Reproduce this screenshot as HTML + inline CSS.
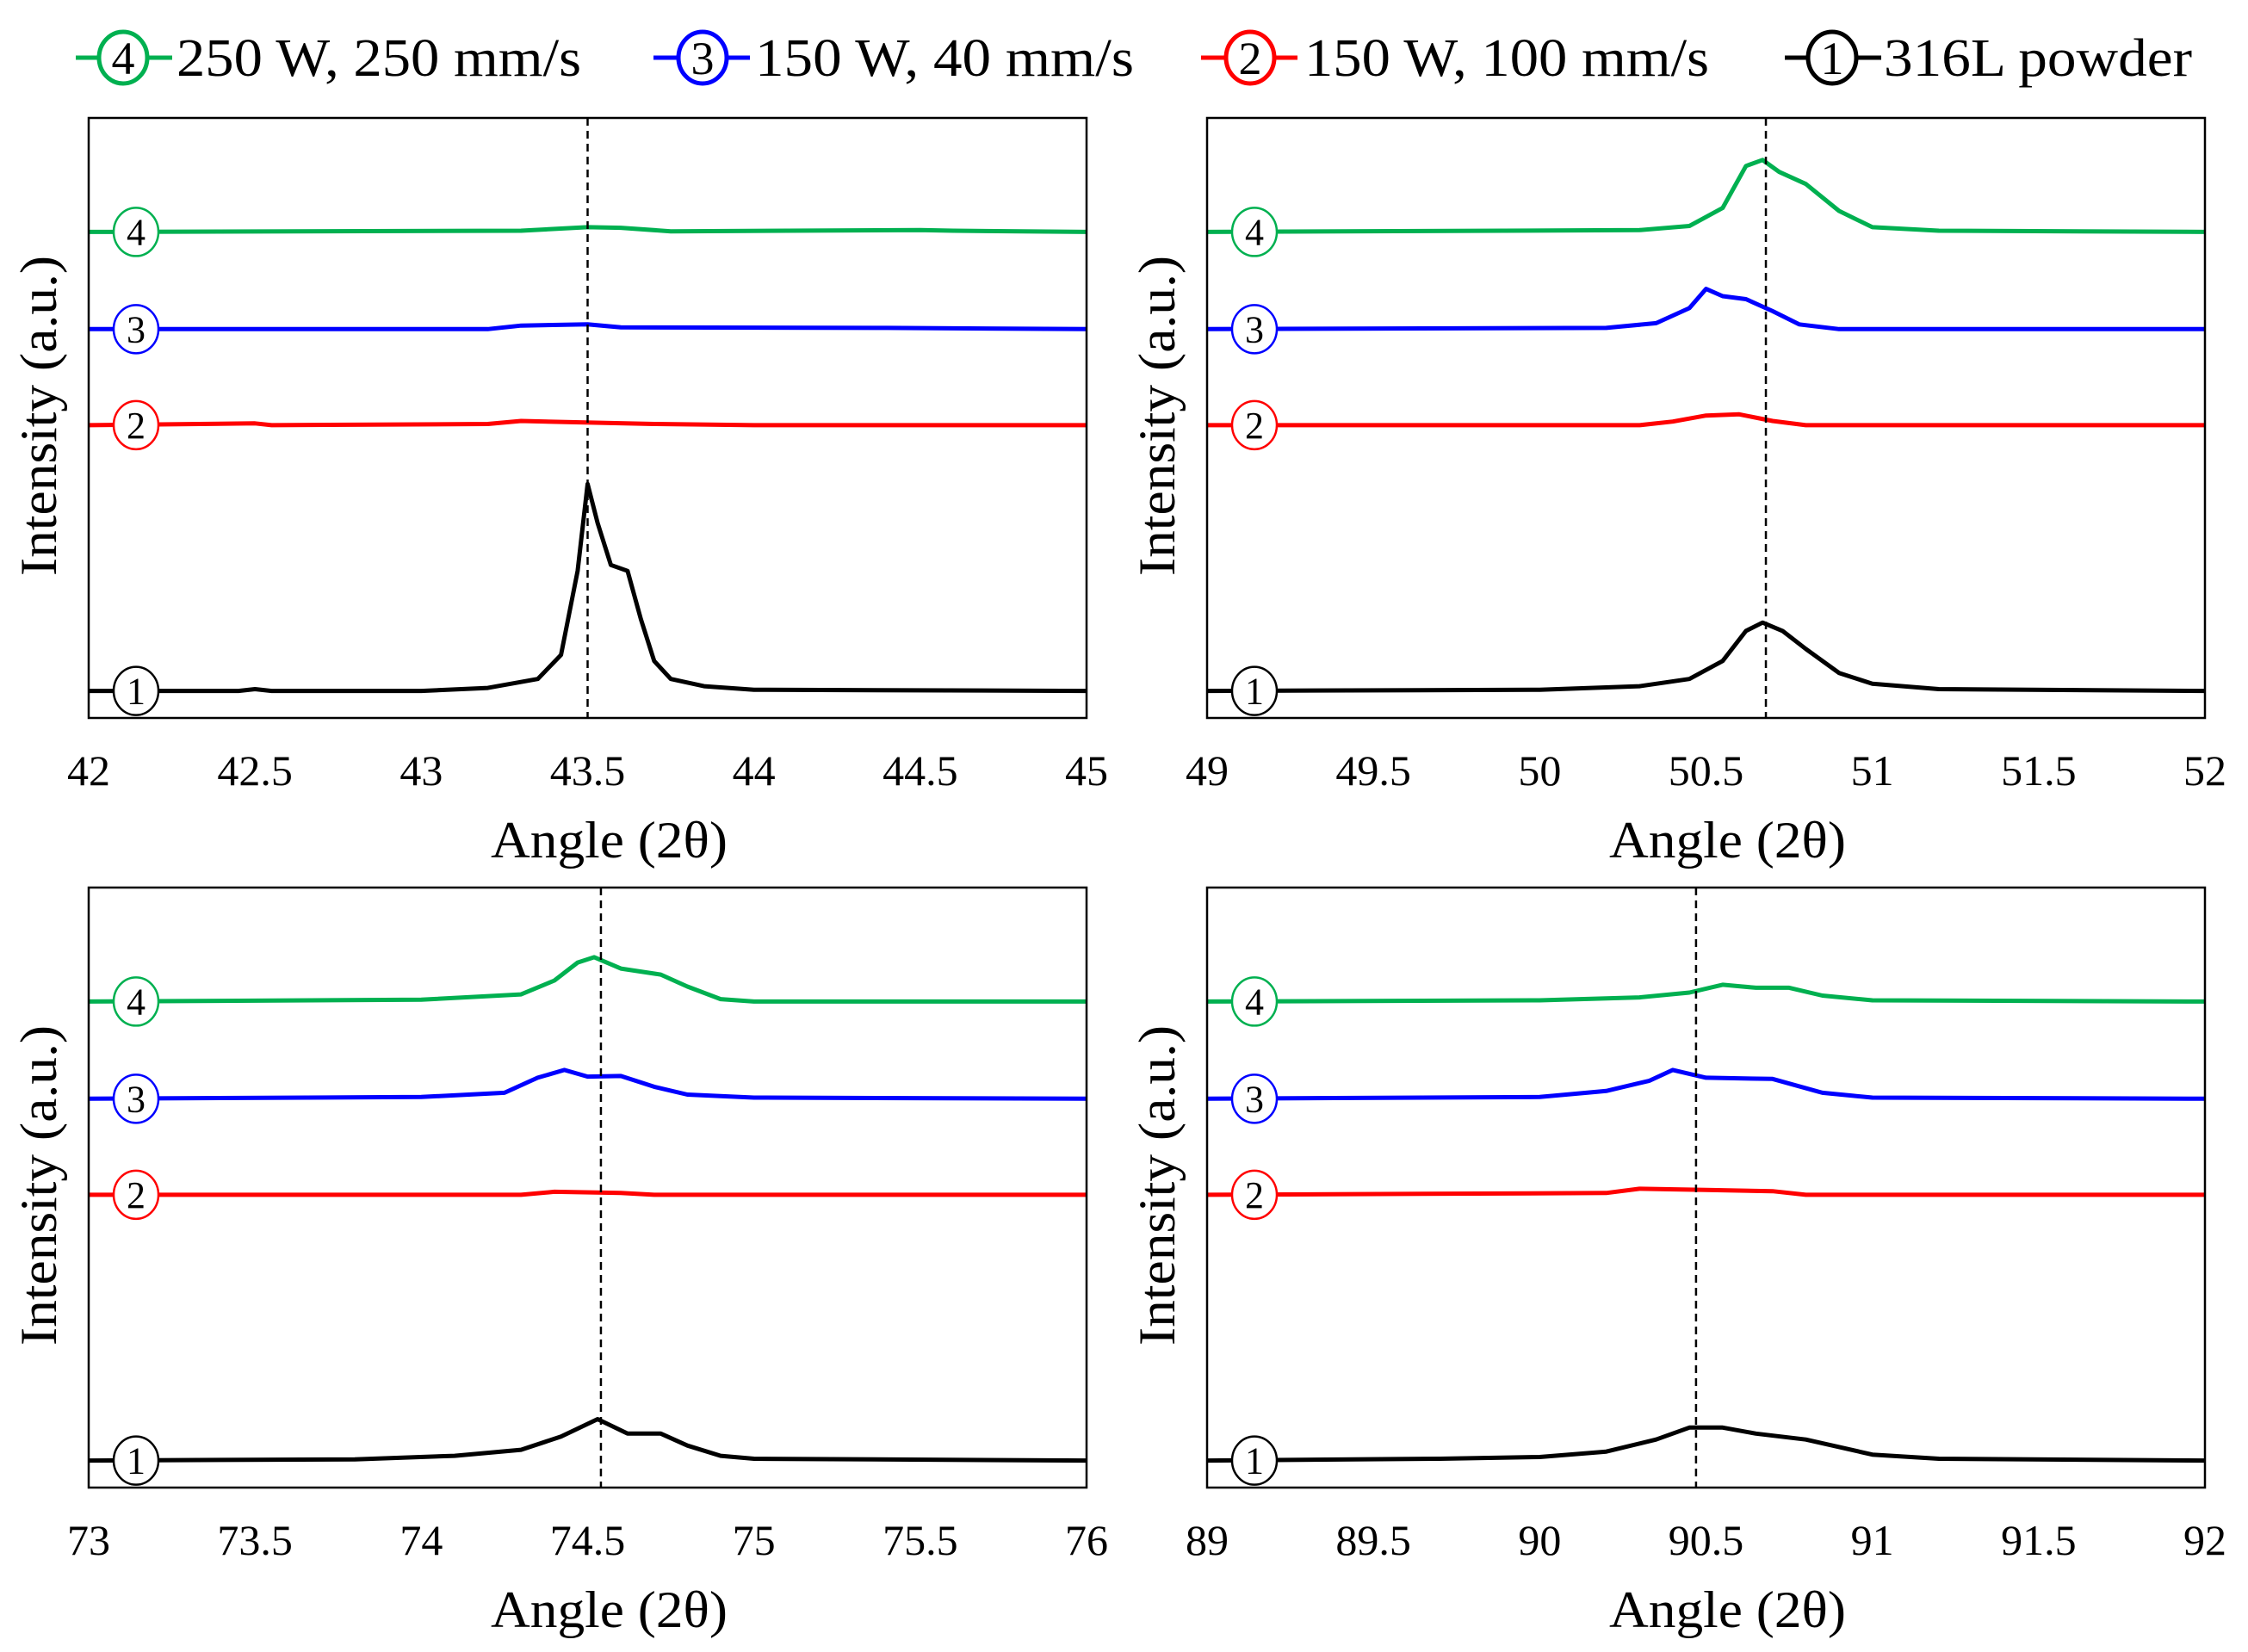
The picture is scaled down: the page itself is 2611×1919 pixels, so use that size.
<!DOCTYPE html>
<html><head><meta charset="utf-8">
<style>body{margin:0;background:#fff}svg{display:block}text{font-family:"Liberation Serif",serif}</style>
</head><body>
<svg id="c" width="2611" height="1919" viewBox="0 0 2611 1919"></svg>
<script>
const seriesNames=["316L powder","150 W, 100 mm/s","150 W, 40 mm/s","250 W, 250 mm/s"];
const seriesColors=["#000000","#ff0000","#0000ff","#00b050"];
const seriesOffsets=[4.5,48.8,64.8,81];
const panelRanges=[[42,45],[49,52],[73,76],[89,92]];
const panelRefLines=[43.5,50.68,74.54,90.47];
const tickLabels1=["42","42.5","43","43.5","44","44.5","45"];
const tickLabels2=["49","49.5","50","50.5","51","51.5","52"];
const tickLabels3=["73","73.5","74","74.5","75","75.5","76"];
const tickLabels4=["89","89.5","90","90.5","91","91.5","92"];
const tickLabels=[tickLabels1,tickLabels2,tickLabels3,tickLabels4];
const p1Black=[[42,0],[42.45,0],[42.5,0.3],[42.55,0],[43,0],[43.2,0.5],[43.35,2],[43.42,6],[43.47,20],[43.5,34.5],[43.53,28],[43.57,21],[43.62,20],[43.66,12],[43.7,5],[43.75,2],[43.85,0.8],[44,0.2],[45,0]];
const p1Red=[[42,0],[42.5,0.3],[42.55,0],[43.2,0.2],[43.3,0.7],[43.45,0.5],[43.7,0.2],[44,0],[45,0]];
const p1Blue=[[42,0],[43.2,0],[43.3,0.6],[43.5,0.8],[43.6,0.3],[44.4,0.2],[45,0]];
const p1Green=[[42,0],[43.3,0.2],[43.5,0.8],[43.6,0.7],[43.75,0.1],[44.5,0.3],[44.6,0.2],[45,0]];
const p2Black=[[49,0],[50,0.2],[50.3,0.8],[50.45,2],[50.55,5],[50.62,10],[50.67,11.4],[50.73,10],[50.8,7],[50.9,3],[51,1.2],[51.2,0.3],[52,0]];
const p2Red=[[49,0],[50.3,0],[50.4,0.6],[50.5,1.6],[50.6,1.8],[50.7,0.7],[50.8,0],[52,0]];
const p2Blue=[[49,0],[50.2,0.2],[50.35,1],[50.45,3.5],[50.5,6.7],[50.55,5.5],[50.62,5],[50.7,3],[50.78,0.8],[50.9,0],[52,0]];
const p2Green=[[49,0],[50.3,0.3],[50.45,1],[50.55,4],[50.62,11],[50.67,12],[50.72,10],[50.8,8],[50.9,3.5],[51,0.8],[51.2,0.2],[52,0]];
const p3Black=[[73,0],[73.8,0.2],[74.1,0.8],[74.3,1.8],[74.42,4],[74.53,6.9],[74.62,4.5],[74.72,4.5],[74.8,2.5],[74.9,0.8],[75,0.3],[76,0]];
const p3Red=[[73,0],[74.3,0],[74.4,0.5],[74.6,0.3],[74.7,0],[76,0]];
const p3Blue=[[73,0],[74,0.3],[74.25,1],[74.35,3.5],[74.43,4.8],[74.5,3.7],[74.6,3.8],[74.7,2],[74.8,0.7],[75,0.2],[76,0]];
const p3Green=[[73,0],[74,0.3],[74.3,1.2],[74.4,3.5],[74.47,6.5],[74.52,7.4],[74.6,5.5],[74.72,4.5],[74.8,2.5],[74.9,0.4],[75,0],[76,0]];
const p4Black=[[89,0],[89.7,0.3],[90,0.6],[90.2,1.5],[90.35,3.5],[90.45,5.5],[90.55,5.5],[90.65,4.5],[90.8,3.5],[91,1],[91.2,0.3],[92,0]];
const p4Red=[[89,0],[90.2,0.3],[90.3,1],[90.5,0.8],[90.7,0.6],[90.8,0],[92,0]];
const p4Blue=[[89,0],[90,0.3],[90.2,1.3],[90.33,3],[90.4,4.8],[90.5,3.5],[90.7,3.3],[90.85,1],[91,0.2],[92,0]];
const p4Green=[[89,0],[90,0.2],[90.3,0.7],[90.45,1.5],[90.55,2.8],[90.65,2.3],[90.75,2.3],[90.85,1],[91,0.2],[92,0]];
const panelData=[[p1Black,p1Red,p1Blue,p1Green],[p2Black,p2Red,p2Blue,p2Green],[p3Black,p3Red,p3Blue,p3Green],[p4Black,p4Red,p4Blue,p4Green]];

const NS="http://www.w3.org/2000/svg";
const svg=document.getElementById('c');
function mk(tag,attrs,parent,txt){const e=document.createElementNS(NS,tag);for(const k in attrs)e.setAttribute(k,attrs[k]);if(txt!==undefined)e.textContent=txt;(parent||svg).appendChild(e);return e;}
const boxes=[[103,137],[1402,137],[103,1031],[1402,1031]];
const W=1159,H=697;
const names=["panel-111","panel-200","panel-220","panel-311"];
boxes.forEach((b,pi)=>{
  const g=mk('g',{});
  
  
  const [x0,y0]=b;const [a,z]=panelRanges[pi];
  const sx=v=>x0+(v-a)/(z-a)*W;
  const sy=v=>y0+H-(v/100)*H;
  panelData[pi].forEach((pts,si)=>{
    const d=pts.map((p,i)=>(i?'L':'M')+sx(p[0]).toFixed(1)+','+sy(seriesOffsets[si]+p[1]).toFixed(1)).join('');
    const p=mk('path',{d:d,fill:'none',stroke:seriesColors[si],'stroke-width':5,'stroke-linejoin':'round'},g);
    
    
  });
  const rl=mk('line',{x1:sx(panelRefLines[pi]),x2:sx(panelRefLines[pi]),y1:y0,y2:y0+H,stroke:'#000','stroke-width':2.5,'stroke-dasharray':'9,6'},g);
  
  
  seriesOffsets.forEach((o,si)=>{
    const cg=mk('g',{},g);
    
    
    mk('ellipse',{cx:x0+55,cy:sy(o),rx:26,ry:28,fill:'#fff',stroke:seriesColors[si],'stroke-width':2.5},cg);
    mk('text',{x:x0+55,y:sy(o)+15,'font-size':44,'text-anchor':'middle',fill:'#000'},cg,String(si+1));
  });
  const r=mk('rect',{x:x0,y:y0,width:W,height:H,fill:'none',stroke:'#000','stroke-width':2.5},g);
  
  
  const tl=tickLabels[pi];
  tl.forEach((t,i)=>{
    const tx=mk('text',{x:sx(a+i*0.5),y:y0+H+78,'font-size':50,'text-anchor':'middle'},g,t);
    
    
  });
  const xt=mk('text',{x:x0+W/2+25,y:y0+H+162,'font-size':60,'text-anchor':'middle',textLength:275,lengthAdjust:'spacingAndGlyphs'},g,'Angle (2θ)');
  
  
  const cy=y0+346;const cx=x0-38;
  const yt=mk('text',{x:cx,y:cy,'font-size':60,'text-anchor':'middle',transform:'rotate(-90 '+cx+' '+cy+')',textLength:372,lengthAdjust:'spacingAndGlyphs'},g,'Intensity (a.u.)');
  
  
});
const legX=[[88,143,205,470],[759,816,877,440],[1395,1452,1515,470],[2073,2128,2188,358]];
const legOrder=[3,2,1,0];
legOrder.forEach((si,i)=>{
  const [l,c,t,tw]=legX[i];
  const g=mk('g',{});
  
  
  mk('line',{x1:l,x2:l+112,y1:67,y2:67,stroke:seriesColors[si],'stroke-width':5},g);
  mk('ellipse',{cx:c,cy:67,rx:28,ry:30,fill:'#fff',stroke:seriesColors[si],'stroke-width':5},g);
  mk('text',{x:c,y:86,'font-size':54,'text-anchor':'middle'},g,String(si+1));
  mk('text',{x:t,y:88,'font-size':62,textLength:tw,lengthAdjust:'spacingAndGlyphs'},g,seriesNames[si]);
});
</script>
</body></html>
